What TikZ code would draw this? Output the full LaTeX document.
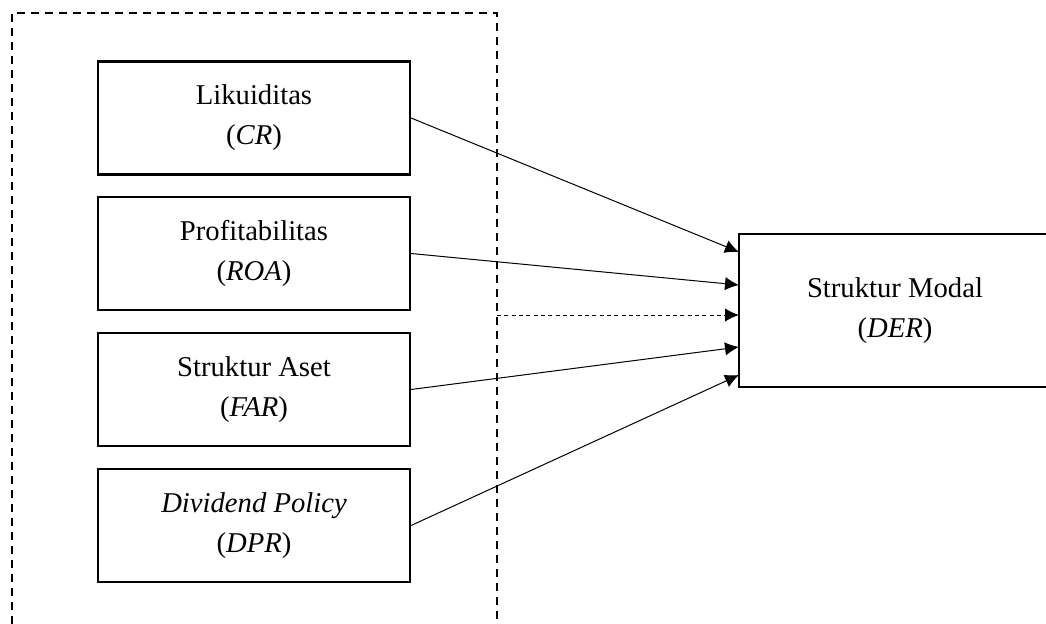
\documentclass[tikz,border=0pt]{standalone}
\usepackage{fontspec}
\setmainfont{Liberation Serif}
\usetikzlibrary{arrows.meta}

\begin{document}
\begin{tikzpicture}[x=0.75pt,y=-0.75pt,
  >={Latex[length=10.5pt,width=10pt]},
  every node/.style={font=\fontsize{21.5}{30}\selectfont,align=center},
  var/.style={draw,rectangle,line width=1.6pt,minimum width=234pt,minimum height=84.75pt,inner sep=0pt},
  frame/.style={line width=1.5pt,dash pattern=on 6pt off 4.5pt}]
\useasboundingbox (0,0) rectangle (1046,624);
\draw[frame] (12,624) -- (12,13) -- (497,13) -- (497,624);
\node[var]           (a) at (254,118)   { Likuiditas\\(\textit{CR}) };
\node[var]           (b) at (254,253.5) { Profitabilitas\\(\textit{ROA}) };
\node[var]           (c) at (254,389.5) { Struktur Aset\\(\textit{FAR}) };
\node[var]           (d) at (254,525.5) { \textit{Dividend Policy}\\(\textit{DPR}) };
\node[var,minimum height=114.75pt] (m) at (895,310.5) { Struktur Modal\\(\textit{DER}) };
\coordinate (g)  at (497,315);
\coordinate (m1) at (739,252);
\coordinate (m2) at (739,285);
\coordinate (m3) at (739,315);
\coordinate (m4) at (739,347);
\coordinate (m5) at (739,375);
\draw[->, line width=0.75pt] (a.east) -- (m1);
\draw[->, line width=0.75pt] (b.east) -- (m2);
\draw[->, line width=0.75pt, dash pattern=on 3pt off 2.5pt] (g) -- (m3);
\draw[->, line width=0.75pt] (c.east) -- (m4);
\draw[->, line width=0.75pt] (d.east) -- (m5);
\end{tikzpicture}
\end{document}
